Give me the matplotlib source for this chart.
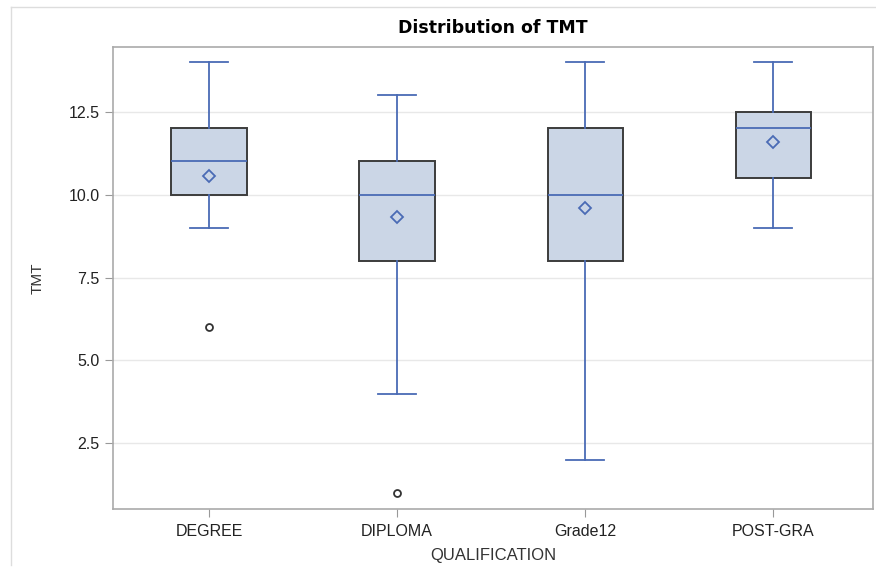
import matplotlib
matplotlib.use('Agg')
import matplotlib.pyplot as plt
from matplotlib.lines import Line2D

# Dados (estatísticas de cada caixa)
categorias = ['DEGREE', 'DIPLOMA', 'Grade12', 'POST-GRA']
whisker_min = [9, 4, 2, 9]
q1 = [10, 8, 8, 10.5]
medianas = [11, 10, 10, 12]
q3 = [12, 11, 12, 12.5]
whisker_max = [14, 13, 14, 14]
medias = [10.57, 9.33, 9.6, 11.6]
outliers = [[6], [1], [], []]

azul = '#4A6BB5'
caixa = '#CBD6E6'
borda = '#3C3C3C'

plt.rcParams['font.family'] = ['Liberation Sans', 'DejaVu Sans']

stats = []
for i, nome in enumerate(categorias):
    stats.append({
        'label': nome,
        'whislo': whisker_min[i],
        'q1': q1[i],
        'med': medianas[i],
        'q3': q3[i],
        'whishi': whisker_max[i],
        'mean': medias[i],
        'fliers': outliers[i],
    })

fig = plt.figure(figsize=(8.76, 5.75), dpi=100)
ax = fig.add_axes([113 / 876, 1 - 509 / 575, 760 / 876, 462 / 575])

ax.bxp(stats, positions=range(len(categorias)), widths=0.40,
       showmeans=True, patch_artist=True,
       boxprops=dict(facecolor=caixa, edgecolor=borda, linewidth=1.4),
       medianprops=dict(color=azul, linewidth=1.3),
       whiskerprops=dict(color=azul, linewidth=1.3),
       capprops=dict(color=azul, linewidth=1.3),
       capwidths=0.2,
       meanprops=dict(marker='D', markerfacecolor='none', markeredgecolor=azul,
                      markersize=6.5, markeredgewidth=1.3),
       flierprops=dict(marker='o', markerfacecolor='none', markeredgecolor='#333333',
                       markersize=5, markeredgewidth=1.3))

ax.set_xlim(-0.51, 3.53)
ax.set_ylim(0.52, 14.45)
ax.set_yticks([2.5, 5.0, 7.5, 10.0, 12.5])
ax.set_yticklabels(['2.5', '5.0', '7.5', '10.0', '12.5'])
ax.set_xticks(range(len(categorias)))
ax.set_xticklabels(categorias)
ax.yaxis.grid(True, color='#E8E8E8', linewidth=1)
ax.set_axisbelow(True)
ax.tick_params(axis='both', colors='#999999', labelcolor='#222222', labelsize=11.5, length=6)
ax.tick_params(axis='x', pad=5)
for s in ax.spines.values():
    s.set_color('#AAAAAA')
    s.set_linewidth(1.2)

ax.set_title('Distribution of TMT', fontsize=12.5, fontweight='bold', pad=10,
             family=['DejaVu Sans'])
ax.set_xlabel('QUALIFICATION', fontsize=12, color='#333333', labelpad=6)
ax.set_ylabel('TMT', fontsize=11, color='#333333', labelpad=17)

# moldura externa
fig.add_artist(Line2D([11 / 876, 11 / 876], [1 - 565 / 575, 1 - 7 / 575],
                      transform=fig.transFigure, color='#DDDDDD', linewidth=1))
fig.add_artist(Line2D([11 / 876, 1], [1 - 7 / 575, 1 - 7 / 575],
                      transform=fig.transFigure, color='#DDDDDD', linewidth=1))

fig.savefig('out.png', dpi=100)
